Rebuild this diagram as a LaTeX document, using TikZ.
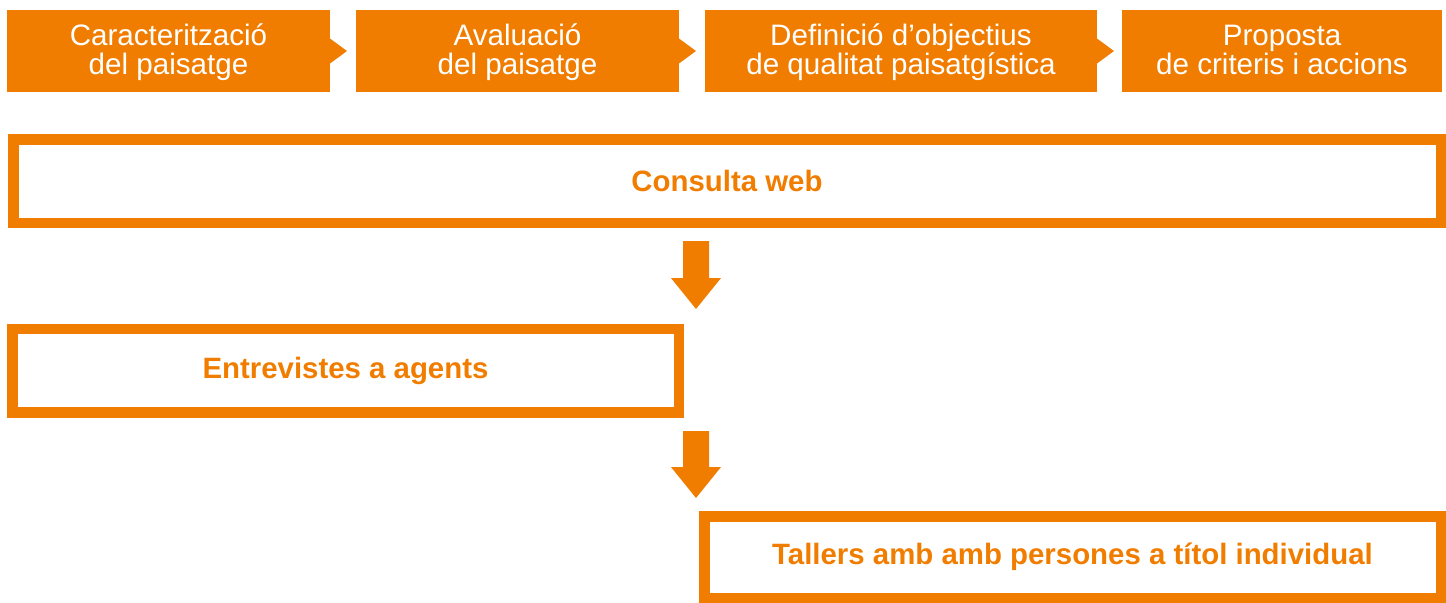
\documentclass[tikz,border=0pt]{standalone}
\usepackage{fontspec}
\setmainfont{Liberation Sans}
\usetikzlibrary{calc}
\definecolor{org}{RGB}{240,125,0}
\newcommand{\topstrut}{\rule{0pt}{13pt}}
\begin{document}
\begin{tikzpicture}[x=0.5pt,y=-0.5pt,
  phase/.style={fill=org, text=white, inner sep=0pt, outer sep=0pt, minimum height=41pt, align=center, font=\fontsize{14.8}{14.6}\selectfont},
  stage/.style={draw=org, line width=5.25pt, inner sep=0pt, outer sep=0pt, text=org, font=\bfseries\fontsize{14.7}{16}\selectfont},
  chev/.style={fill=org},
  flow/.style={fill=org}]
\useasboundingbox (0,0) rectangle (1446,602);
% phases
\node[phase, minimum width=161.5pt] (p1) at (168.5,51) {\topstrut Caracterització\\\strut del paisatge};
\node[phase, minimum width=161.5pt] (p2) at (517.5,51) {\topstrut Avaluació\\\strut del paisatge};
\node[phase, minimum width=196pt] (p3) at (901,51) {\topstrut Definició d’objectius\\\strut de qualitat paisatgística};
\node[phase, minimum width=160pt] (p4) at (1282,51) {\topstrut Proposta\\\strut de criteris i accions};
\foreach \p in {p1,p2,p3}{
  \fill[chev] ($(\p.east)+(0,-12.5)$) -- ($(\p.east)+(17,0)$) -- ($(\p.east)+(0,12.5)$) -- cycle;
}
% stages
\node[stage, minimum width=713.75pt, minimum height=41.75pt] (web) at (727,181) {Consulta web};
\node[stage, minimum width=333.25pt, minimum height=41.75pt] (ent) at (345.5,370.5) {Entrevistes a agents};
\node[stage, minimum width=368.25pt, minimum height=41pt] (tal) at (1072.5,557.25) {Tallers amb amb persones a títol individual};
% arrows
\coordinate (a1) at (696,241);
\coordinate (a2) at (696,431);
\fill[flow] (a1) ++(-13,0) -- ++(26,0) -- ++(0,37) -- ++(12,0) -- ++(-25,31) -- ++(-25,-31) -- ++(12,0) -- cycle;
\fill[flow] (a2) ++(-13,0) -- ++(26,0) -- ++(0,36) -- ++(12,0) -- ++(-25,31) -- ++(-25,-31) -- ++(12,0) -- cycle;
\end{tikzpicture}
\end{document}
